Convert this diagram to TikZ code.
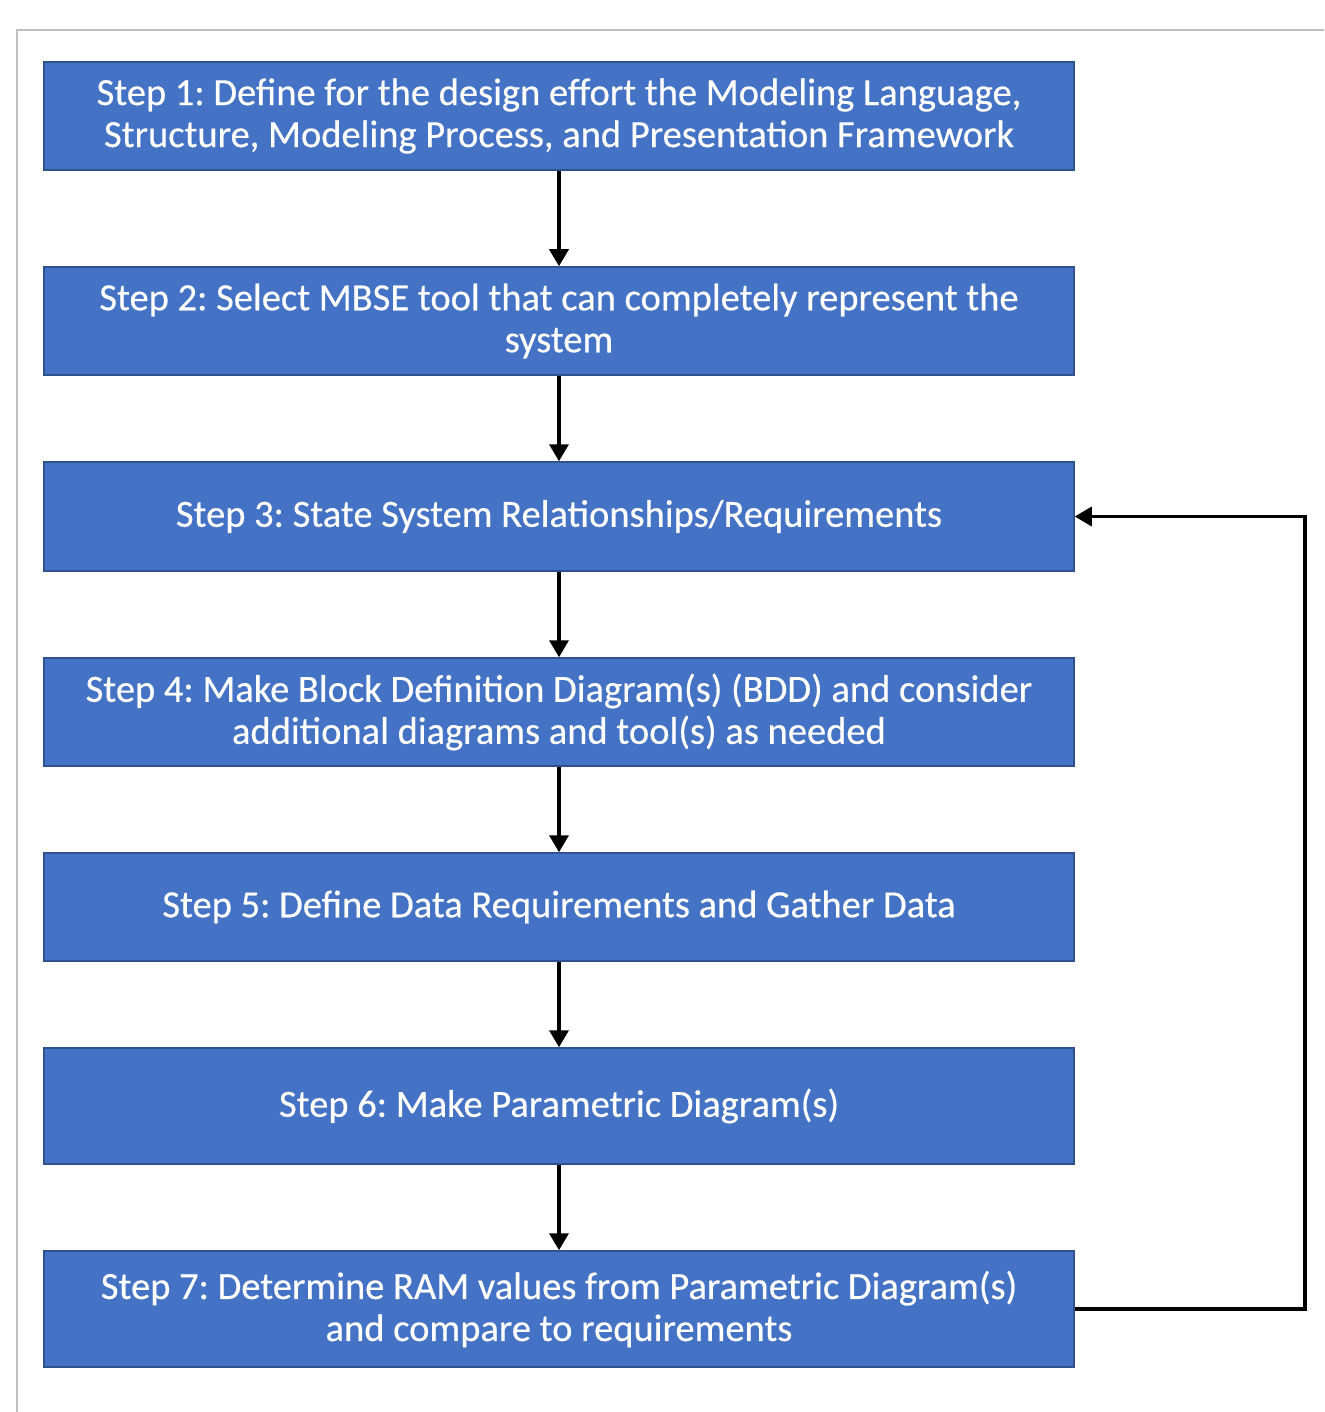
\documentclass[tikz,border=0pt]{standalone}
\usepackage{fontspec}
\setmainfont{Carlito}
\newfontfamily\stepfont[FakeBold=0.4]{Carlito}
\usetikzlibrary{arrows.meta}
\definecolor{boxfill}{HTML}{4472C4}
\definecolor{boxedge}{HTML}{2F528F}
\definecolor{framegray}{HTML}{BFBFBF}
\begin{document}
\frenchspacing
\begin{tikzpicture}[x=1pt,y=-1pt,
  stepbox/.style={draw=boxedge,line width=1.5pt,fill=boxfill,text=white,
    minimum width=1030pt,align=center,inner sep=0pt,
    font=\stepfont\fontsize{38.5}{42}\selectfont},
  flow/.style={line width=3.5pt,-{Triangle[length=17pt,width=19pt]}}]
\useasboundingbox (0,0) rectangle (1324,1412);
\draw[framegray,line width=2pt] (1324,30) -- (17,30) -- (17,1412);
\node[stepbox,minimum height=108pt] (s1) at (559,116) {Step 1: Define for the design effort the Modeling Language,\\Structure, Modeling Process, and Presentation Framework};
\node[stepbox,minimum height=108pt] (s2) at (559,321) {Step 2: Select MBSE tool that can completely represent the\\system};
\node[stepbox,minimum height=109pt] (s3) at (559,516.5) {Step 3: State System Relationships/Requirements};
\node[stepbox,minimum height=108pt] (s4) at (559,712) {Step 4: Make Block Definition Diagram(s) (BDD) and consider\\additional diagrams and tool(s) as needed};
\node[stepbox,minimum height=108pt] (s5) at (559,907) {Step 5: Define Data Requirements and Gather Data};
\node[stepbox,minimum height=116pt] (s6) at (559,1106) {Step 6: Make Parametric Diagram(s)};
\node[stepbox,minimum height=116pt] (s7) at (559,1309) {Step 7: Determine RAM values from Parametric Diagram(s)\\and compare to requirements};
\draw[flow] (s1) -- (s2);
\draw[flow] (s2) -- (s3);
\draw[flow] (s3) -- (s4);
\draw[flow] (s4) -- (s5);
\draw[flow] (s5) -- (s6);
\draw[flow] (s6) -- (s7);
\coordinate (rx) at (1305,0);
\draw[flow,line join=miter] (s7.east) -- (s7.east -| rx) |- (s3.east);
\end{tikzpicture}
\end{document}
